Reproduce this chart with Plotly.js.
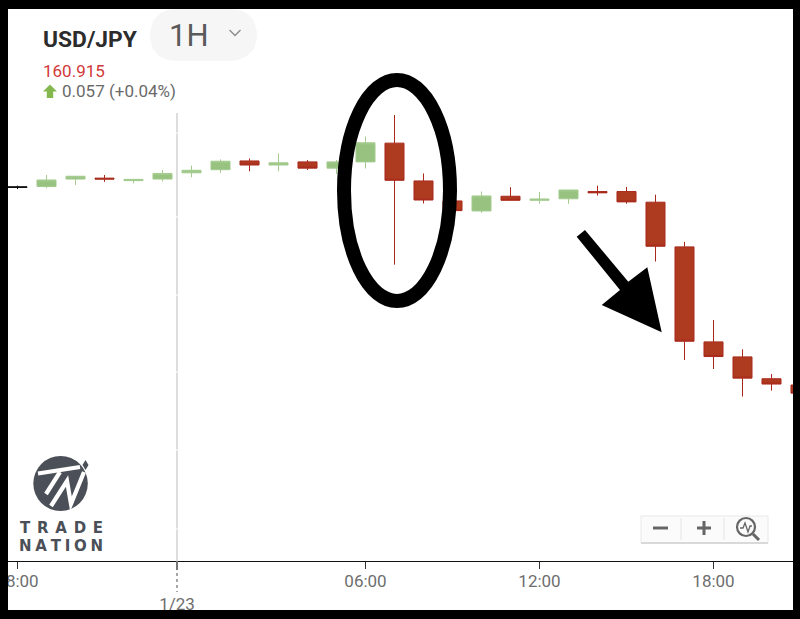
<!DOCTYPE html>
<html><head><meta charset="utf-8">
<script src="https://cdn.plot.ly/plotly-3.0.1.min.js"></script>
<style>html,body{margin:0;padding:0;background:#000;width:800px;height:619px;overflow:hidden}
#chart{position:absolute;left:8px;top:9px;width:785px;height:601px;overflow:hidden;background:#fff}</style>
</head><body><div id="chart"></div>
<script>
const upTimes=['2025-01-22 19:00','2025-01-22 20:00','2025-01-22 22:00','2025-01-22 23:00','2025-01-23 00:00','2025-01-23 01:00','2025-01-23 03:00','2025-01-23 05:00','2025-01-23 06:00','2025-01-23 10:00','2025-01-23 12:00','2025-01-23 13:00'];
const upOpen=[160.903,160.927,160.922,160.927,160.947,160.957,160.972,160.962,160.982,160.825,160.859,160.864];
const upHigh=[160.940,160.937,160.926,160.956,160.970,160.990,161.009,160.988,161.063,160.887,160.886,160.892];
const upLow=[160.898,160.908,160.913,160.919,160.933,160.947,160.952,160.943,160.961,160.819,160.848,160.848];
const upClose=[160.924,160.936,160.926,160.945,160.955,160.984,160.979,160.982,161.043,160.873,160.863,160.892];

const downTimes=['2025-01-22 21:00','2025-01-23 02:00','2025-01-23 04:00','2025-01-23 07:00','2025-01-23 08:00','2025-01-23 09:00','2025-01-23 11:00','2025-01-23 14:00','2025-01-23 15:00','2025-01-23 16:00','2025-01-23 17:00','2025-01-23 18:00','2025-01-23 19:00','2025-01-23 20:00','2025-01-23 21:00'];
const downOpen=[160.930,160.985,160.982,161.042,160.921,160.857,160.872,160.887,160.887,160.853,160.710,160.406,160.358,160.288,160.268];
const downHigh=[160.940,160.993,160.988,161.132,160.945,160.857,160.901,160.906,160.902,160.877,160.726,160.476,160.382,160.303,160.268];
const downLow=[160.918,160.952,160.956,160.653,160.849,160.826,160.859,160.874,160.848,160.663,160.348,160.319,160.231,160.250,160.242];
const downClose=[160.927,160.972,160.962,160.923,160.860,160.826,160.859,160.883,160.854,160.712,160.408,160.359,160.290,160.271,160.242];

const flatTimes=['2025-01-22 18:00'];
const flatOpen=[160.900],flatHigh=[160.906],flatLow=[160.895],flatClose=[160.902];

const tickTimes=['2025-01-22 18:00','2025-01-22 23:30','2025-01-23 06:00','2025-01-23 12:00','2025-01-23 18:00'];
const tickLabels=['18:00','<br>1/23','06:00','12:00','18:00'];
const gridPrices=[161.074,160.806,160.556,160.310,160.060,159.807];

const W=785,H=552;
const px=x=>(x-8)/W, py=y=>(561-y)/H;
const poly=(pts,close)=>pts.map((p,i)=>(i?'L':'M')+px(p[0]).toFixed(5)+' '+py(p[1]).toFixed(5)).join(' ')+(close?' Z':'');
const paper={xref:'paper',yref:'paper'};
function candle(x,o,h,l,c,upFill,upLine,dnFill,dnLine){
  return {type:'candlestick',x,open:o,high:h,low:l,close:c,whiskerwidth:0,showlegend:false,hoverinfo:'skip',
    increasing:{fillcolor:upFill,line:{color:upLine,width:1}},
    decreasing:{fillcolor:dnFill,line:{color:dnLine,width:1}}};
}
const traces=[
  candle(upTimes,upOpen,upHigh,upLow,upClose,'#97c280','#a3cb8e','#ae3a20','#a92a1c'),
  candle(downTimes,downOpen,downHigh,downLow,downClose,'#97c280','#a3cb8e','#ae3a20','#a92a1c'),
  candle(flatTimes,flatOpen,flatHigh,flatLow,flatClose,'#111','#111','#111','#111')
];

const shapes=[];
shapes.push({type:'line',xref:'x',yref:'paper',x0:tickTimes[1],x1:tickTimes[1],y0:0,y1:py(113),line:{color:'#d2d2d2',width:1.5},layer:'below'});
gridPrices.forEach(p=>shapes.push({type:'line',xref:'paper',yref:'y',x0:0,x1:1,y0:p,y1:p,line:{color:'#ffffff',width:1},layer:'below'}));
shapes.push({type:'line',xref:'x',yref:'paper',x0:tickTimes[1],x1:tickTimes[1],y0:py(561),y1:py(570),line:{color:'#777',width:2}});
shapes.push({type:'line',xref:'x',yref:'paper',x0:tickTimes[1],x1:tickTimes[1],y0:py(573),y1:py(592),line:{color:'#8a8a8a',width:1.5,dash:'dot'}});
shapes.push({type:'circle',...paper,x0:px(344),x1:px(450),y0:py(80),y1:py(301),line:{color:'#000',width:14},fillcolor:'rgba(0,0,0,0)'});
shapes.push({type:'path',...paper,path:poly([[576.7,236.7],[585,230],[628.3,281.7],[647.3,267.3],[661.7,332.3],[601.7,305],[620,290]],true),fillcolor:'#000',line:{color:'#000',width:0}});
shapes.push({type:'path',...paper,path:poly([[176,9],[231,9],[240,10],[248,14],[254,21],[257,32],[257,38],[254,49],[247,56],[238,60],[231,61],[176,61],[167,60],[159,56],[153,49],[150,38],[150,32],[153,21],[159,14],[167,10]],true),fillcolor:'#f6f6f6',line:{width:0},layer:'below'});
shapes.push({type:'path',...paper,path:poly([[229.5,30],[235,35.5],[240.5,30]]),line:{color:'#8a8a8a',width:1.3}});
shapes.push({type:'path',...paper,path:poly([[50,84.5],[57,91.5],[53.2,91.5],[53.2,98],[46.8,98],[46.8,91.5],[43,91.5]],true),fillcolor:'#84b84f',line:{width:0}});
shapes.push({type:'circle',...paper,x0:px(33.3),x1:px(87.8),y0:py(456),y1:py(511),fillcolor:'#4b5058',line:{width:0}});
const wm={color:'#fff',width:4.2};
shapes.push({type:'path',...paper,path:poly([[38,473.5],[80,467]]),line:wm});
shapes.push({type:'path',...paper,path:poly([[60,472],[46,494]]),line:wm});
shapes.push({type:'path',...paper,path:poly([[51,506],[67,481],[71,504],[84,472]]),line:wm});
shapes.push({type:'path',...paper,path:poly([[85.5,460],[88.5,465],[85.5,470],[82.5,465]],true),fillcolor:'#4b5058',line:{width:0}});
shapes.push({type:'rect',...paper,x0:px(641),x1:px(768),y0:py(516),y1:py(543),fillcolor:'#fbfbfb',line:{color:'#e8e8e8',width:1}});
shapes.push({type:'line',...paper,x0:px(641),x1:px(768),y0:py(543),y1:py(543),line:{color:'#d0d0d0',width:1.5}});
[681,724].forEach(x=>shapes.push({type:'line',...paper,x0:px(x),x1:px(x),y0:py(518),y1:py(540),line:{color:'#e4e4e4',width:1}}));
const ic={color:'#666',width:3};
shapes.push({type:'path',...paper,path:poly([[653,528],[668,528]]),line:ic});
shapes.push({type:'path',...paper,path:poly([[697,528],[711,528]]),line:ic});
shapes.push({type:'path',...paper,path:poly([[704,521],[704,535]]),line:ic});
shapes.push({type:'circle',...paper,x0:px(737),x1:px(755),y0:py(518),y1:py(536),line:{color:'#666',width:2.2},fillcolor:'rgba(0,0,0,0)'});
shapes.push({type:'path',...paper,path:poly([[753,534],[759,540]]),line:ic});
shapes.push({type:'path',...paper,path:poly([[740,528],[743,528],[745,523],[748,532],[750,526],[752,526]]),line:{color:'#666',width:1.3}});

const note=(text,x,y,size,color,family,anchor)=>({text,xref:'paper',yref:'paper',x:px(x),y:py(y),xanchor:anchor||'left',yanchor:'middle',showarrow:false,font:{size,color,family:family||'Roboto, sans-serif'}});
const annotations=[
  note('<b>USD/JPY</b>',41,39,22.8,'#2c2c2c'),
  note('1H',189,36,31,'#5a5a5a','Roboto, sans-serif','center'),
  note('160.915',41,71,17,'#d23a3a'),
  note('0.057 (+0.04%)',60,91,17,'#6a6a6a'),
  note('<b>T\u2005\u2009R\u2005\u2009A\u2005\u2009D\u2005\u2009E</b>',61,527.5,15,'#4b5058','DejaVu Sans','center'),
  note('<b>N\u2005A\u2005T\u2005I\u2005O\u2005N</b>',61,545.5,15,'#4b5058','DejaVu Sans','center')
];

const layout={
  width:785,height:601,margin:{l:0,r:0,t:0,b:49},paper_bgcolor:'#fff',plot_bgcolor:'#fff',showlegend:false,
  boxgap:0.2,boxgroupgap:0.18,
  xaxis:{type:'date',range:['2025-01-22 17:40:20','2025-01-23 20:44:29'],rangeslider:{visible:false},
    tickmode:'array',tickvals:tickTimes,ticktext:tickLabels,ticks:'outside',ticklen:7,tickcolor:'#333',tickwidth:1,
    tickangle:0,showgrid:false,zeroline:false,showline:true,linecolor:'#111',linewidth:1,ticklabeloverflow:'allow',
    tickfont:{family:'Roboto, sans-serif',size:17,color:'#6e6e6e'},ticklabelstandoff:-2},
  yaxis:{range:[159.7048,161.4712],showticklabels:false,ticks:'',showgrid:false,zeroline:false,showline:false},
  shapes,annotations
};
Plotly.newPlot('chart',traces,layout,{displayModeBar:false,staticPlot:true});
</script></body></html>
